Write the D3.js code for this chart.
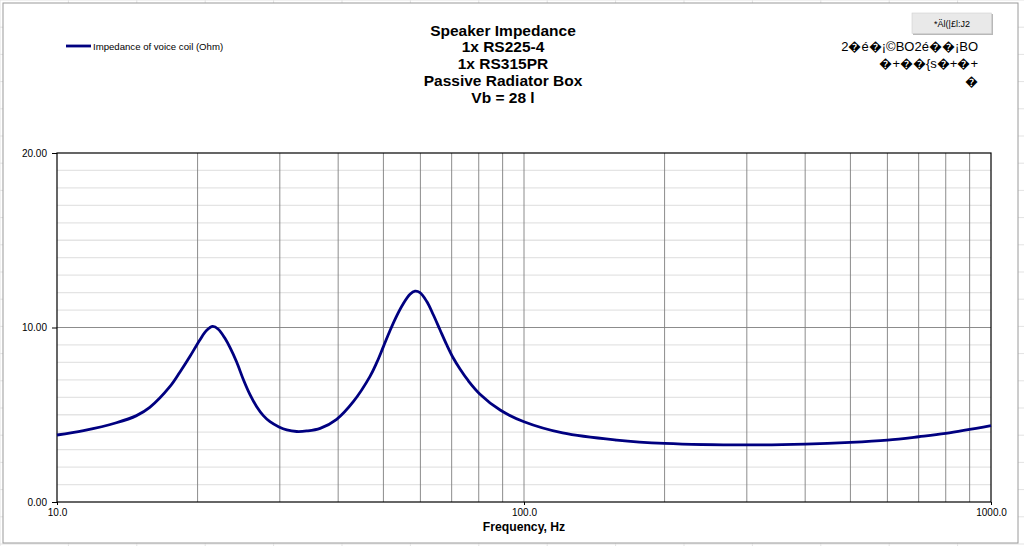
<!DOCTYPE html>
<html>
<head>
<meta charset="utf-8">
<script src="https://cdn.jsdelivr.net/npm/d3@7"></script>
<style>
  html, body { margin: 0; padding: 0; background: #ffffff; }
  svg { display: block; font-family: "Liberation Sans", Arial, sans-serif; }
</style>
</head>
<body>
<svg id="chart" width="1024" height="546"></svg>
<script>
// ---- data ----
const frequencies = [10, 11.4, 13.4, 14.8, 15.8, 17.46, 18.34, 19.27, 20.24, 20.92, 21.55, 22.15, 22.89, 23.46, 24.25, 25.06, 25.90, 26.77, 27.66, 28.58, 29.88, 31.04, 32.61, 34.25, 36.6, 39.7, 43.1, 46.8, 48.4, 49.97, 51.66, 53.39, 55.14, 57.0, 58.42, 59.88, 61.88, 63.94, 66.08, 68.31, 70.56, 72.94, 75.97, 80.5, 88.9, 100, 121, 158, 200, 300, 400, 500, 600, 700, 800, 1000];
const impedance   = [3.84, 4.09, 4.54, 4.95, 5.42, 6.62, 7.45, 8.35, 9.30, 9.84, 10.06, 9.90, 9.38, 8.86, 8.02, 7.02, 6.15, 5.46, 4.95, 4.60, 4.30, 4.13, 4.04, 4.07, 4.22, 4.74, 5.75, 7.20, 8.00, 8.89, 9.83, 10.67, 11.36, 11.90, 12.08, 12.00, 11.50, 10.73, 9.87, 9.01, 8.25, 7.62, 6.95, 6.18, 5.27, 4.60, 3.96, 3.55, 3.36, 3.27, 3.32, 3.42, 3.55, 3.74, 3.93, 4.37];
const seriesName = "Impedance of voice coil (Ohm)";
const titleLines = ["Speaker Impedance", "1x RS225-4", "1x RS315PR", "Passive Radiator Box", "Vb = 28 l"];
const xTickValues = [10, 100, 1000];
const yTickValues = [0, 10, 20];
const xLabel = "Frequency, Hz";
const buttonText = "*Äl(|£l:J2";
const sideTextLines = ["2\uFFFDé\uFFFD¡©BO2é\uFFFD\uFFFD¡BO", "\uFFFD+\uFFFD\uFFFD{s\uFFFD+\uFFFD+", "\uFFFD"];

// ---- layout ----
const svg = d3.select("#chart");
const W = 1024, H = 546;
const plot = { left: 57, right: 991, top: 153, bottom: 502 };

// spreadsheet background grid
const bg = svg.append("g");
for (let gx = 0; gx <= W; gx += 68.4) {
  bg.append("line").attr("x1", gx).attr("x2", gx).attr("y1", 0).attr("y2", H)
    .attr("stroke", "#e3e3e3").attr("stroke-width", 1);
}
for (let gy = 0; gy <= H; gy += 27.2) {
  bg.append("line").attr("x1", 0).attr("x2", W).attr("y1", gy).attr("y2", gy)
    .attr("stroke", "#e3e3e3").attr("stroke-width", 1);
}
// chart object frame
svg.append("rect").attr("x", 3).attr("y", 3).attr("width", 1015).attr("height", 540)
  .attr("fill", "#ffffff").attr("stroke", "#9a9a9a").attr("stroke-width", 1);

const x = d3.scaleLog().domain([10, 1000]).range([plot.left, plot.right]);
const y = d3.scaleLinear().domain([0, 20]).range([plot.bottom, plot.top]);

// minor horizontal grid (every 1 ohm)
const g = svg.append("g");
g.selectAll(".hmin").data(d3.range(1, 20).filter(v => v % 10 !== 0)).enter().append("line")
  .attr("x1", plot.left).attr("x2", plot.right)
  .attr("y1", d => y(d)).attr("y2", d => y(d))
  .attr("stroke", "#e4e4e4").attr("stroke-width", 1.3);

// vertical grid (log)
const vTicks = [];
for (let dec = 10; dec < 1000; dec *= 10) {
  for (let m = 1; m <= 9; m++) vTicks.push(dec * m);
}
g.selectAll(".vgrid").data(vTicks.filter(v => v > 10)).enter().append("line")
  .attr("x1", d => x(d)).attr("x2", d => x(d))
  .attr("y1", plot.top).attr("y2", plot.bottom)
  .attr("stroke", "#7f7f7f").attr("stroke-width", 0.9);

// major horizontal grid
g.selectAll(".hmaj").data([10]).enter().append("line")
  .attr("x1", plot.left).attr("x2", plot.right)
  .attr("y1", d => y(d)).attr("y2", d => y(d))
  .attr("stroke", "#7f7f7f").attr("stroke-width", 0.9);

// plot border
svg.append("rect").attr("x", plot.left).attr("y", plot.top)
  .attr("width", plot.right - plot.left).attr("height", plot.bottom - plot.top)
  .attr("fill", "none").attr("stroke", "#000000").attr("stroke-width", 1.2);

// axes
const yAxis = d3.axisLeft(y).tickValues(yTickValues).tickFormat(d3.format(".2f"))
  .tickSize(5).tickPadding(5);
const ya = svg.append("g").attr("transform", `translate(${plot.left},0)`).call(yAxis);
ya.select(".domain").remove();
ya.selectAll("text").attr("font-size", 10).attr("fill", "#000")
  .attr("font-family", "'Liberation Sans', Arial, sans-serif");
ya.selectAll("line").attr("stroke", "#000");

const xAxis = d3.axisBottom(x).tickValues(xTickValues).tickFormat(d3.format(".1f"))
  .tickSize(3).tickPadding(4);
const xa = svg.append("g").attr("transform", `translate(0,${plot.bottom})`).call(xAxis);
xa.select(".domain").remove();
xa.selectAll("text").attr("font-size", 10).attr("fill", "#000")
  .attr("font-family", "'Liberation Sans', Arial, sans-serif");
xa.selectAll("line").attr("stroke", "#000");

// axis title
svg.append("text").attr("x", x(100)).attr("y", 530.5).attr("text-anchor", "middle")
  .attr("font-size", 12.2).attr("font-weight", "bold").text(xLabel);

// curve
const data = frequencies.map((f, i) => ({ f, z: impedance[i] }));
const line = d3.line().x(d => x(d.f)).y(d => y(d.z)).curve(d3.curveCatmullRom.alpha(0.5));
svg.append("path").datum(data).attr("d", line)
  .attr("fill", "none").attr("stroke", "#000080").attr("stroke-width", 2.8)
  .attr("stroke-linejoin", "round");

// title
svg.selectAll(".title").data(titleLines).enter().append("text")
  .attr("x", 503).attr("y", (d, i) => 35.5 + i * 16.9)
  .attr("text-anchor", "middle").attr("font-size", 15.5).attr("font-weight", "bold")
  .attr("fill", "#000").text(d => d);

// legend
svg.append("line").attr("x1", 66).attr("x2", 91).attr("y1", 46).attr("y2", 46)
  .attr("stroke", "#000080").attr("stroke-width", 2.8);
svg.append("text").attr("x", 93).attr("y", 49.5).attr("font-size", 9.6)
  .attr("fill", "#000").text(seriesName);

// button
svg.append("rect").attr("x", 913).attr("y", 14).attr("width", 80).attr("height", 21)
  .attr("fill", "#b8b8b8");
svg.append("rect").attr("x", 912).attr("y", 13).attr("width", 79.5).attr("height", 20.5)
  .attr("fill", "#e9e9e9").attr("stroke", "#d0d0d0").attr("stroke-width", 0.6);
svg.append("text").attr("x", 952).attr("y", 26.5).attr("text-anchor", "middle")
  .attr("font-size", 9).attr("fill", "#000").text(buttonText);

// side text
svg.selectAll(".side").data(sideTextLines).enter().append("text")
  .attr("x", 978).attr("y", (d, i) => 50.5 + i * 17.7)
  .attr("text-anchor", "end").attr("font-size", 13).attr("fill", "#000")
  .text(d => d);
</script>
</body>
</html>
